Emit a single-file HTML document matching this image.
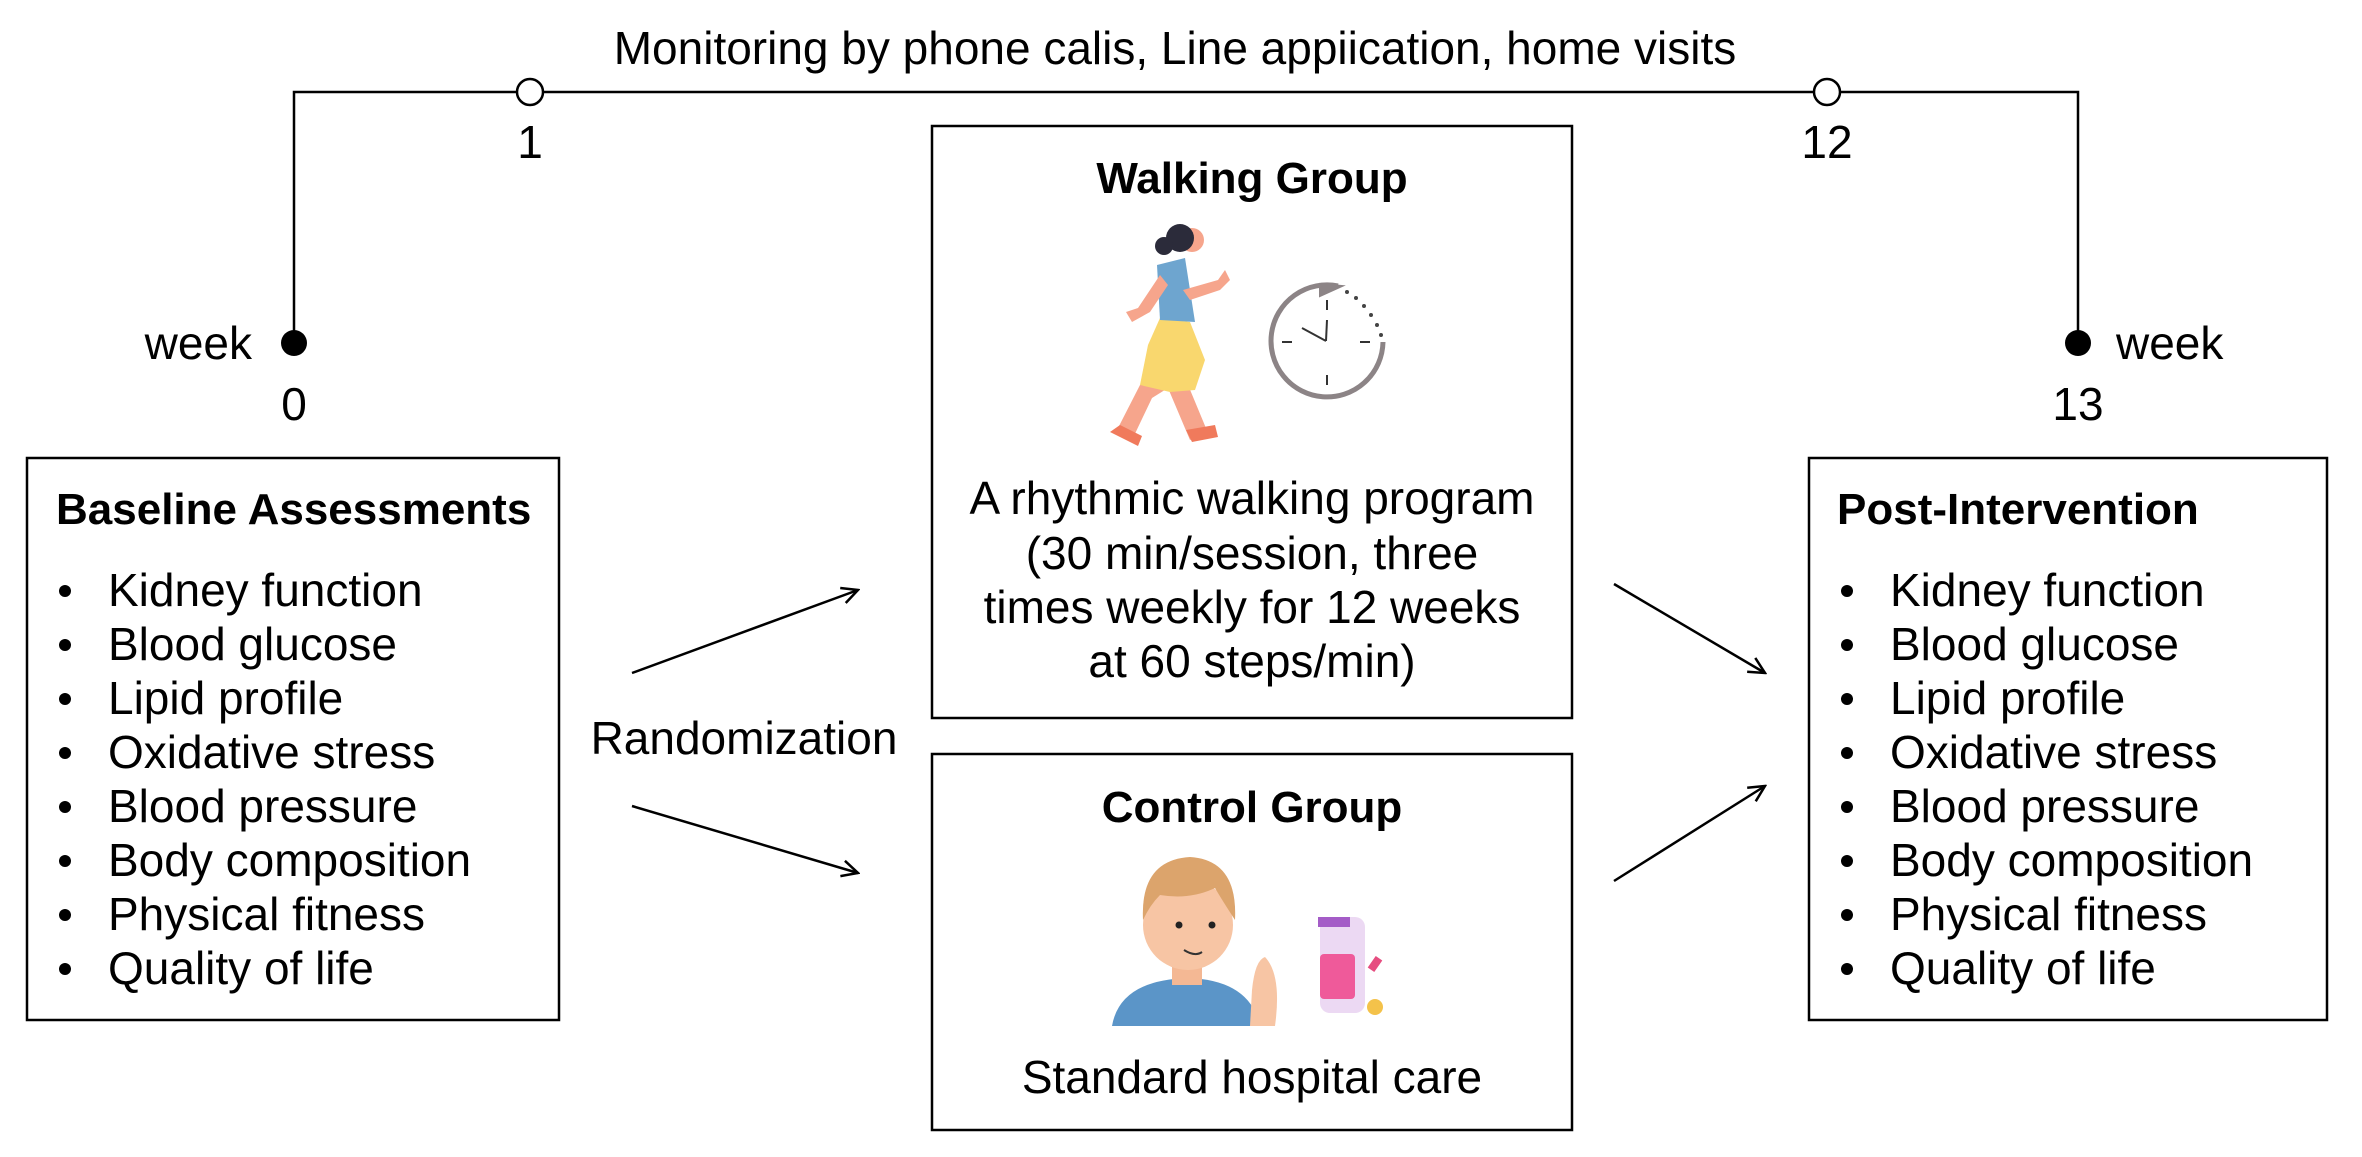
<!DOCTYPE html>
<html><head><meta charset="utf-8"><style>
html,body{margin:0;padding:0;background:#fff}
svg{display:block}
text{font-family:"Liberation Sans",sans-serif;fill:#000}
</style></head><body>
<svg width="2362" height="1157" viewBox="0 0 2362 1157" xmlns="http://www.w3.org/2000/svg">
<defs><marker id="ah" markerWidth="20" markerHeight="20" refX="18" refY="10" orient="auto" markerUnits="userSpaceOnUse"><path d="M2,2 L18,10 L2,18" fill="none" stroke="#000" stroke-width="2.5"/></marker></defs>
<polyline points="294,343 294,92 2078,92 2078,343" fill="none" stroke="#000" stroke-width="2.5"/>
<circle cx="294" cy="343" r="13" fill="#000"/>
<circle cx="2078" cy="343" r="13" fill="#000"/>
<circle cx="530" cy="92" r="13" fill="#fff" stroke="#000" stroke-width="2.5"/>
<circle cx="1827" cy="92" r="13" fill="#fff" stroke="#000" stroke-width="2.5"/>
<g font-size="46">
<text x="1175" y="64" text-anchor="middle">Monitoring by phone calis, Line appiication, home visits</text>
<text x="530" y="158" text-anchor="middle">1</text>
<text x="1827" y="158" text-anchor="middle">12</text>
<text x="252" y="359" text-anchor="end">week</text>
<text x="294" y="420" text-anchor="middle">0</text>
<text x="2116" y="359">week</text>
<text x="2078" y="420" text-anchor="middle">13</text>
<text x="744" y="754" text-anchor="middle">Randomization</text>
</g>
<g fill="none" stroke="#000" stroke-width="2.5">
<rect x="27" y="458" width="532" height="562"/>
<rect x="932" y="126" width="640" height="592"/>
<rect x="932" y="754" width="640" height="376"/>
<rect x="1809" y="458" width="518" height="562"/>
<line x1="632" y1="673" x2="858" y2="590" marker-end="url(#ah)"/>
<line x1="632" y1="806" x2="858" y2="873" marker-end="url(#ah)"/>
<line x1="1614" y1="584" x2="1765" y2="673" marker-end="url(#ah)"/>
<line x1="1614" y1="881" x2="1765" y2="786" marker-end="url(#ah)"/>
</g>
<g font-size="44" font-weight="bold">
<text x="56" y="524">Baseline Assessments</text>
<text x="1837" y="524">Post-Intervention</text>
<text x="1252" y="193" text-anchor="middle">Walking Group</text>
<text x="1252" y="822" text-anchor="middle">Control Group</text>
</g>
<g font-size="46">
<g text-anchor="middle">
<text x="1252" y="514">A rhythmic walking program</text>
<text x="1252" y="569">(30 min/session, three</text>
<text x="1252" y="623">times weekly for 12 weeks</text>
<text x="1252" y="677">at 60 steps/min)</text>
<text x="1252" y="1093">Standard hospital care</text>
</g>
<g>
<text x="108" y="606">Kidney function</text>
<text x="108" y="660">Blood glucose</text>
<text x="108" y="714">Lipid profile</text>
<text x="108" y="768">Oxidative stress</text>
<text x="108" y="822">Blood pressure</text>
<text x="108" y="876">Body composition</text>
<text x="108" y="930">Physical fitness</text>
<text x="108" y="984">Quality of life</text>
</g>
<g>
<text x="1890" y="606">Kidney function</text>
<text x="1890" y="660">Blood glucose</text>
<text x="1890" y="714">Lipid profile</text>
<text x="1890" y="768">Oxidative stress</text>
<text x="1890" y="822">Blood pressure</text>
<text x="1890" y="876">Body composition</text>
<text x="1890" y="930">Physical fitness</text>
<text x="1890" y="984">Quality of life</text>
</g>
</g>
<g fill="#000">
<circle cx="65" cy="591" r="6"/><circle cx="65" cy="645" r="6"/><circle cx="65" cy="699" r="6"/><circle cx="65" cy="753" r="6"/><circle cx="65" cy="807" r="6"/><circle cx="65" cy="861" r="6"/><circle cx="65" cy="915" r="6"/><circle cx="65" cy="969" r="6"/>
<circle cx="1847" cy="591" r="6"/><circle cx="1847" cy="645" r="6"/><circle cx="1847" cy="699" r="6"/><circle cx="1847" cy="753" r="6"/><circle cx="1847" cy="807" r="6"/><circle cx="1847" cy="861" r="6"/><circle cx="1847" cy="915" r="6"/><circle cx="1847" cy="969" r="6"/>
</g>
<!-- walker -->
<g>
<path d="M1140,385 L1118,428 L1132,440 L1152,398 L1168,388 L1190,440 L1208,433 L1186,380 Z" fill="#f6a58c"/>
<path d="M1120,425 L1110,432 L1138,446 L1142,436 Z" fill="#f07a5c"/>
<path d="M1186,430 L1215,425 L1218,437 L1192,442 Z" fill="#f07a5c"/>
<path d="M1160,318 L1190,322 L1205,360 L1195,390 L1170,392 L1140,385 L1148,345 Z" fill="#f9d76e"/>
<path d="M1157,265 L1185,258 L1195,322 L1160,320 Z" fill="#6ea5cf"/>
<path d="M1160,275 L1138,308 L1126,312 L1132,322 L1150,312 L1168,285 Z" fill="#f6a58c"/>
<path d="M1183,290 L1218,280 L1225,270 L1230,280 L1220,290 L1190,300 Z" fill="#f6a58c"/>
<circle cx="1192" cy="240" r="12" fill="#f6a58c"/>
<ellipse cx="1180" cy="238" rx="14" ry="14" fill="#2b2b3a"/>
<circle cx="1164" cy="246" r="9" fill="#2b2b3a"/>
</g>
<!-- clock -->
<g stroke="#8c8486" fill="none">
<path d="M1383,342 A56,56 0 1 1 1338,286" stroke-width="5"/>
<path d="M1320,284 L1342,286 L1320,296 Z" fill="#8c8486" stroke-width="2"/>
<g stroke-width="2" stroke="#333">
<line x1="1327" y1="300" x2="1327" y2="310"/><line x1="1327" y1="375" x2="1327" y2="385"/>
<line x1="1282" y1="342" x2="1292" y2="342"/><line x1="1360" y1="342" x2="1370" y2="342"/>
<line x1="1326" y1="341" x2="1327" y2="320"/><line x1="1326" y1="341" x2="1302" y2="328"/>
</g>
</g>
<g fill="#444"><circle cx="1347" cy="292" r="2"/><circle cx="1356" cy="298" r="2"/><circle cx="1364" cy="306" r="2"/><circle cx="1371" cy="315" r="2"/><circle cx="1377" cy="325" r="2"/><circle cx="1381" cy="335" r="2"/></g>
<!-- boy -->
<g>
<path d="M1112,1026 Q1120,980 1188,978 Q1250,980 1260,1026 Z" fill="#5b95c8"/>
<rect x="1172" y="960" width="30" height="25" fill="#f4b894"/>
<circle cx="1188" cy="925" r="45" fill="#f7c5a4"/>
<path d="M1143,920 Q1140,860 1190,857 Q1238,860 1235,920 Q1222,900 1215,888 Q1190,900 1160,895 Q1150,905 1143,920 Z" fill="#dca46c"/>
<circle cx="1179" cy="925" r="3.5" fill="#222"/><circle cx="1212" cy="925" r="3.5" fill="#222"/>
<path d="M1184,950 Q1195,957 1202,952" stroke="#333" stroke-width="2" fill="none"/>
<path d="M1250,1026 L1252,990 Q1255,960 1265,957 Q1282,975 1275,1026 Z" fill="#f7c5a4"/>
<rect x="1320" y="917" width="45" height="96" rx="10" fill="#ecd9f3"/>
<rect x="1318" y="917" width="32" height="10" fill="#a45cc7"/>
<rect x="1320" y="954" width="35" height="45" rx="4" fill="#ef5a9a"/>
<rect x="1371" y="957" width="8" height="14" fill="#e64d80" transform="rotate(35 1375 964)"/>
<circle cx="1375" cy="1007" r="8" fill="#f4c24a"/>
</g>
</svg>
</body></html>
